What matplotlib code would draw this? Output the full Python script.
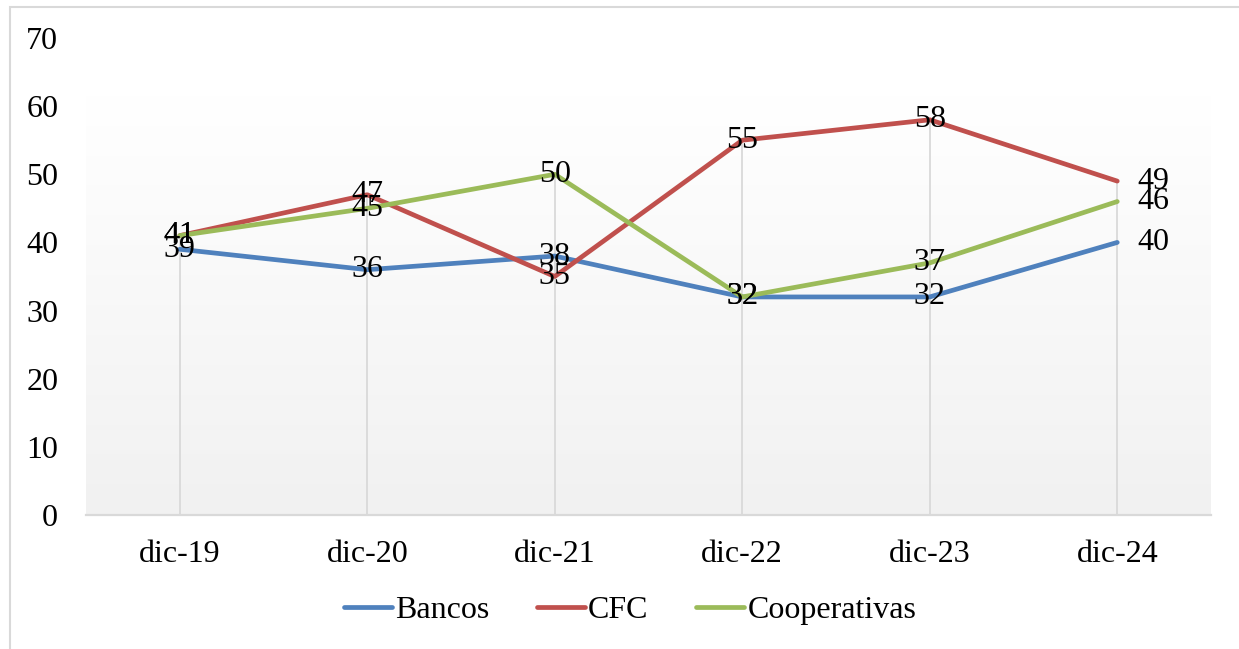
import numpy as np
import matplotlib
matplotlib.use('Agg')
import matplotlib.pyplot as plt
from matplotlib.colors import LinearSegmentedColormap
from matplotlib.patches import Rectangle

plt.rcParams['font.family'] = ['Liberation Serif', 'DejaVu Serif']

periods = ['dic-19', 'dic-20', 'dic-21', 'dic-22', 'dic-23', 'dic-24']
bancos = [39, 36, 38, 32, 32, 40]
cfc = [41, 47, 35, 55, 58, 49]
cooperativas = [41, 45, 50, 32, 37, 46]

series = [('Bancos', bancos, '#4f81bd'),
          ('CFC', cfc, '#c0504d'),
          ('Cooperativas', cooperativas, '#9bbb59')]

FS = 23
W, H = 1239, 649
fig = plt.figure(figsize=(W / 100, H / 100), dpi=100)
fig.patch.set_facecolor('white')

# outer chart border (only top/left are visible in the crop)
fig.patches.append(Rectangle((10 / W, -0.1), 1.2, (H - 7) / H + 0.1,
                             transform=fig.transFigure, fill=False,
                             edgecolor='#d9d9d9', lw=1.5))

ax = fig.add_axes([86 / W, (H - 515) / H, (1211 - 86) / W, (515 - 38) / H])
ax.set_xlim(-0.5, len(periods) - 0.5)
ax.set_ylim(0, 70)

# background gradient
cmap = LinearSegmentedColormap.from_list('bg', ['#f1f1f1', '#ffffff'])
grad = np.linspace(0, 1, 256).reshape(-1, 1)
ax.imshow(grad, cmap=cmap, extent=[0, 1, 0, 0.88], transform=ax.transAxes,
          aspect='auto', origin='lower', zorder=0)
ax.set_facecolor('white')

x = np.arange(len(periods))
# drop lines from the highest point down to the axis
tops = np.max([bancos, cfc, cooperativas], axis=0)
ax.vlines(x, 0, tops, color='#d9d9d9', lw=1.3, zorder=1)

for name, vals, col in series:
    ax.plot(x, vals, color=col, lw=3.4, label=name, zorder=3,
            solid_capstyle='round', solid_joinstyle='round')
    for i, v in enumerate(vals):
        if i == len(vals) - 1:
            ax.annotate(str(v), (x[i], v), xytext=(20, 0), textcoords='offset pixels',
                        ha='left', va='center', fontsize=FS, zorder=4)
        else:
            ax.text(x[i], v, str(v), ha='center', va='center', fontsize=FS, zorder=4)

for s in ['top', 'right', 'left']:
    ax.spines[s].set_visible(False)
ax.spines['bottom'].set_color('#d9d9d9')
ax.spines['bottom'].set_linewidth(1.6)

ax.set_xticks(x)
ax.set_xticklabels(periods)
ax.set_yticks(np.arange(0, 71, 10))
ax.tick_params(axis='both', length=0, labelsize=FS)
ax.tick_params(axis='y', pad=20)
ax.tick_params(axis='x', pad=18)

leg = fig.legend(loc='center', bbox_to_anchor=(630 / W, (H - 610) / H), ncol=3,
                 frameon=False, fontsize=FS, handlelength=1.5, handletextpad=0.1,
                 columnspacing=1.5)
for line in leg.get_lines():
    line.set_linewidth(3.4)

fig.savefig('out.png', dpi=100)
